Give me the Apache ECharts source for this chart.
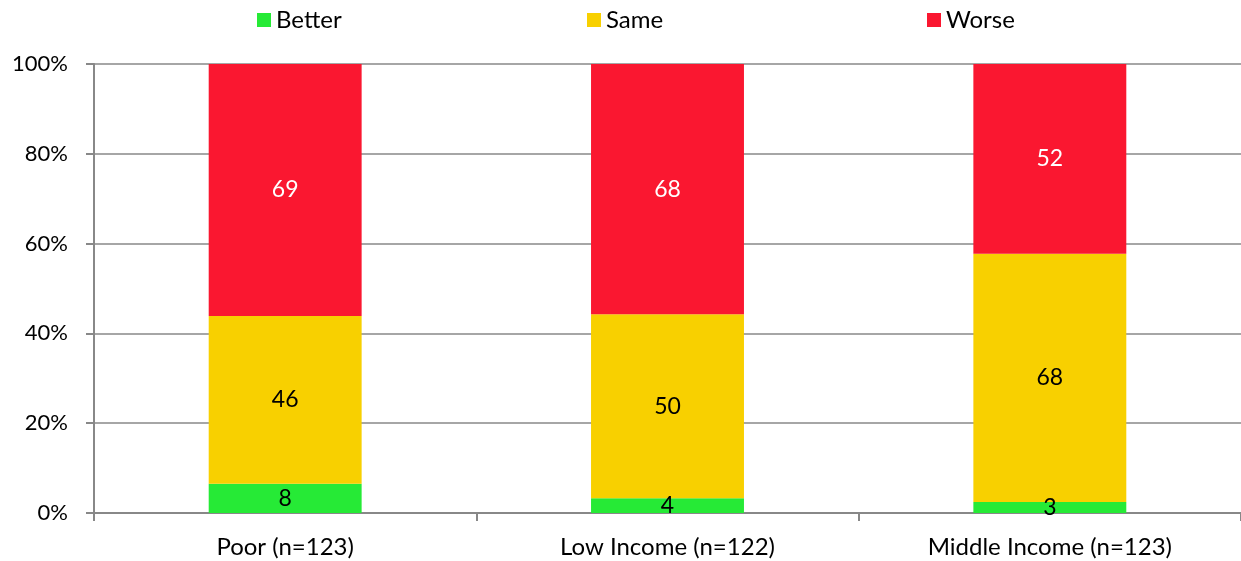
<!DOCTYPE html>
<html><head><meta charset="utf-8">
<script src="https://cdn.jsdelivr.net/npm/echarts@6/dist/echarts.min.js"></script>
<style>html,body{margin:0;padding:0;background:#fff}#c{width:1241px;height:561px}</style>
</head><body><div id="c"></div>
<script>
const categories = ['Poor (n=123)', 'Low Income (n=122)', 'Middle Income (n=123)'];
const better = [8, 4, 3];
const same = [46, 50, 68];
const worse = [69, 68, 52];
const yTicks = ['0%', '20%', '40%', '60%', '80%', '100%'];

const totals = categories.map((_, i) => better[i] + same[i] + worse[i]);
const pct = arr => arr.map((v, i) => ({ value: v / totals[i] * 100, raw: v }));
const font = 'Lato, "Open Sans", sans-serif';

const chart = echarts.init(document.getElementById('c'));
function mkSeries(name, arr, color, labelColor) {
  return {
    name, type: 'bar', stack: 'total', data: pct(arr), barWidth: '40%',
    itemStyle: { color },
    label: { show: true, position: 'inside', color: labelColor, fontSize: 23, fontFamily: font,
      formatter: p => p.data.raw },
    emphasis: { disabled: true }
  };
}
const legendBase = { top: 3, itemWidth: 14, itemHeight: 14, itemGap: 8,
  textStyle: { fontSize: 24, fontFamily: font, color: '#000' }, icon: 'rect' };
chart.setOption({
  animation: false,
  legend: [
    Object.assign({ left: 252, data: ['Better'] }, legendBase),
    Object.assign({ left: 582, data: ['Same'] }, legendBase),
    Object.assign({ left: 922, data: ['Worse'] }, legendBase)
  ],
  grid: { left: 94, top: 64, width: 1150, bottom: 48, containLabel: false },
  xAxis: {
    type: 'category', data: categories,
    axisLine: { lineStyle: { color: '#888', width: 2 } },
    axisTick: { show: true, length: 8, lineStyle: { color: '#888', width: 2 } },
    axisLabel: { fontSize: 24, fontFamily: font, color: '#000', margin: 22 }
  },
  yAxis: {
    type: 'value', min: 0, max: 100, interval: 20,
    axisLine: { show: true, lineStyle: { color: '#888', width: 2 } },
    axisTick: { show: true, length: 8, lineStyle: { color: '#888', width: 2 } },
    splitLine: { lineStyle: { color: '#888', width: 1.5 } },
    axisLabel: { fontSize: 22, fontFamily: font, color: '#000', margin: 26,
      formatter: v => yTicks[Math.round(v / 20)] }
  },
  series: [
    mkSeries('Better', better, '#26EA36', '#000'),
    mkSeries('Same', same, '#F8D000', '#000'),
    mkSeries('Worse', worse, '#FA1730', '#fff')
  ]
});
</script></body></html>
